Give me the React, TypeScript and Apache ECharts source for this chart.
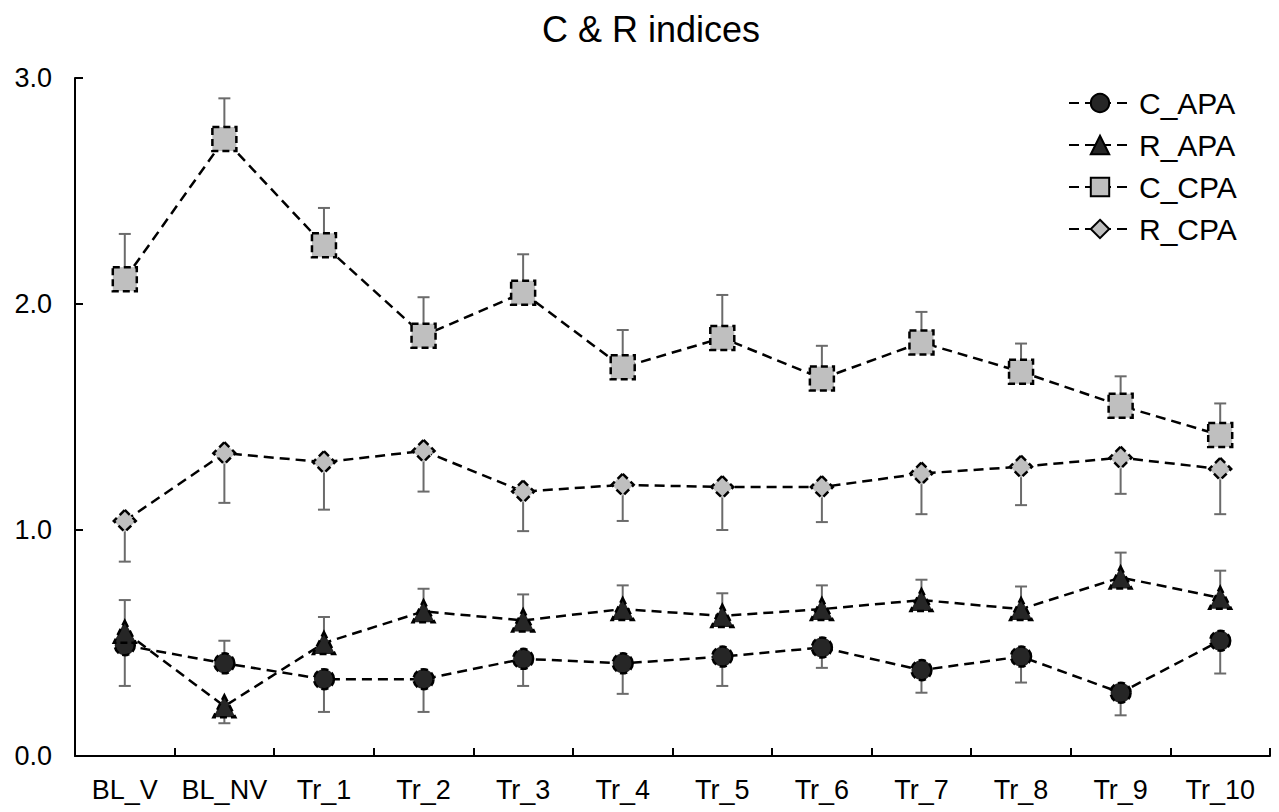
import React, { useEffect, useRef } from "react";
import * as echarts from "echarts";

const categories = ["BL_V", "BL_NV", "Tr_1", "Tr_2", "Tr_3", "Tr_4", "Tr_5", "Tr_6", "Tr_7", "Tr_8", "Tr_9", "Tr_10"];
const yTicks = [0, 1, 2, 3];

const cApa = [0.49, 0.41, 0.34, 0.34, 0.43, 0.41, 0.44, 0.48, 0.38, 0.44, 0.28, 0.51];
const cApaPlus = [0, 0.10, 0, 0, 0, 0, 0, 0, 0, 0, 0, 0];
const cApaMinus = [0.18, 0, 0.145, 0.145, 0.12, 0.135, 0.13, 0.09, 0.10, 0.115, 0.10, 0.145];

const rApa = [0.55, 0.22, 0.50, 0.64, 0.60, 0.65, 0.62, 0.65, 0.69, 0.65, 0.79, 0.70];
const rApaPlus = [0.14, 0, 0.115, 0.10, 0.115, 0.105, 0.10, 0.105, 0.09, 0.10, 0.11, 0.12];
const rApaMinus = [0, 0.075, 0, 0, 0, 0, 0, 0, 0, 0, 0, 0];

const cCpa = [2.11, 2.73, 2.26, 1.86, 2.05, 1.72, 1.85, 1.67, 1.83, 1.70, 1.55, 1.42];
const cCpaPlus = [0.20, 0.18, 0.165, 0.17, 0.17, 0.165, 0.19, 0.145, 0.135, 0.125, 0.13, 0.14];
const cCpaMinus = [0, 0, 0, 0, 0, 0, 0, 0, 0, 0, 0, 0];

const rCpa = [1.04, 1.34, 1.30, 1.35, 1.17, 1.20, 1.19, 1.19, 1.25, 1.28, 1.32, 1.27];
const rCpaPlus = [0, 0, 0, 0, 0, 0, 0, 0, 0, 0, 0, 0];
const rCpaMinus = [0.18, 0.22, 0.21, 0.18, 0.175, 0.16, 0.19, 0.155, 0.18, 0.17, 0.16, 0.20];

const FONT = "'Liberation Sans', Arial, sans-serif";

export default function App() {
  const ref = useRef<HTMLDivElement>(null);
  useEffect(() => {
    if (!ref.current) return;
    const chart = echarts.init(ref.current, null, { renderer: "svg" });

    const errData: number[][] = [];
    const addErr = (vals: number[], plus: number[], minus: number[]) => {
      vals.forEach((v, i) => {
        if (plus[i] > 0 || minus[i] > 0) {
          errData.push([i, v - minus[i], v + plus[i], minus[i] > 0 ? 1 : 0, plus[i] > 0 ? 1 : 0]);
        }
      });
    };
    addErr(cApa, cApaPlus, cApaMinus);
    addErr(rApa, rApaPlus, rApaMinus);
    addErr(cCpa, cCpaPlus, cCpaMinus);
    addErr(rCpa, rCpaPlus, rCpaMinus);

    const lineStyle = { color: "#000", width: 2.5, type: [10, 6] as any };
    const mk = (name: string, data: number[], symbol: string, size: number, fill: string) => ({
      name,
      type: "line",
      data,
      symbol,
      symbolSize: size,
      z: 3,
      lineStyle,
      itemStyle: { color: fill, borderColor: "#000", borderWidth: 2.5, borderType: [7, 4] as any },
      emphasis: { disabled: true },
    });

    chart.setOption({
      animation: false,
      title: {
        text: "C & R indices",
        left: 646,
        textAlign: "center",
        top: 6,
        textStyle: { fontFamily: FONT, fontSize: 36, fontWeight: "normal", color: "#000" },
      },
      legend: {
        data: ["C_APA", "R_APA", "C_CPA", "R_CPA"],
        orient: "vertical",
        left: 1063,
        top: 83,
        itemWidth: 62,
        itemHeight: 23,
        itemGap: 12,
        textStyle: { fontFamily: FONT, fontSize: 30, color: "#000", padding: [0, 0, 0, 3] },
      },
      grid: { left: 75, right: 9, top: 78, bottom: 56 },
      xAxis: {
        type: "category",
        data: categories,
        boundaryGap: true,
        axisLine: { show: true, lineStyle: { color: "#000", width: 2 } },
        axisTick: { show: true, inside: true, length: 8, alignWithLabel: false, lineStyle: { color: "#000", width: 2 } },
        axisLabel: { fontFamily: FONT, fontSize: 27, color: "#000", margin: 20, interval: 0 },
        splitLine: { show: false },
      },
      yAxis: {
        type: "value",
        min: yTicks[0],
        max: yTicks[yTicks.length - 1],
        interval: 1,
        axisLine: { show: true, lineStyle: { color: "#000", width: 2 } },
        axisTick: { show: true, inside: true, length: 8, lineStyle: { color: "#000", width: 2 } },
        axisLabel: { fontFamily: FONT, fontSize: 27, color: "#000", margin: 23, formatter: (v: number) => v.toFixed(1) },
        splitLine: { show: false },
      },
      series: [
        {
          type: "custom",
          name: "err",
          z: 1,
          silent: true,
          data: errData,
          encode: { x: 0, y: [1, 2] },
          renderItem: (params: any, api: any) => {
            const x = api.value(0);
            const lo = api.coord([x, api.value(1)]);
            const hi = api.coord([x, api.value(2)]);
            const half = 6;
            const stroke = { stroke: "#6b6b6b", lineWidth: 2 };
            const children: any[] = [
              { type: "line", shape: { x1: lo[0], y1: lo[1], x2: hi[0], y2: hi[1] }, style: stroke },
            ];
            if (api.value(3)) children.push({ type: "line", shape: { x1: lo[0] - half, y1: lo[1], x2: lo[0] + half, y2: lo[1] }, style: stroke });
            if (api.value(4)) children.push({ type: "line", shape: { x1: hi[0] - half, y1: hi[1], x2: hi[0] + half, y2: hi[1] }, style: stroke });
            return { type: "group", children };
          },
        },
        mk("C_APA", cApa, "circle", 20, "#262626"),
        mk("R_APA", rApa, "triangle", 22, "#262626"),
        mk("C_CPA", cCpa, "rect", 24, "#bfbfbf"),
        mk("R_CPA", rCpa, "diamond", 22, "#bfbfbf"),
      ],
    });
    return () => chart.dispose();
  }, []);
  return <div ref={ref} style={{ position: "absolute", left: 0, top: 0, width: 1279, height: 812 }} />;
}
